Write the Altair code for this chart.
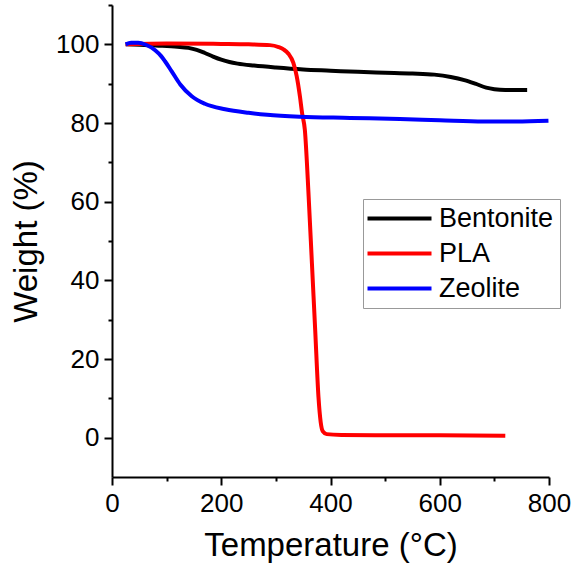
import altair as alt
import pandas as pd

FONT = "Liberation Sans, Arial, sans-serif"

series_names = ["Bentonite", "PLA", "Zeolite"]
series_colors = ["#000000", "#ff0000", "#0000ff"]

bent_T = [25, 50, 80, 120, 140, 155, 170, 185, 200, 215, 230, 260, 300, 350, 400, 450, 500, 550, 590, 620, 645, 665, 685, 700, 720, 740, 760]
bent_W = [100, 99.9, 99.7, 99.4, 99.1, 98.6, 97.8, 96.9, 96.1, 95.5, 95.1, 94.6, 94.1, 93.6, 93.3, 93.0, 92.8, 92.6, 92.3, 91.7, 90.9, 90.0, 89.0, 88.6, 88.4, 88.4, 88.4]

pla_T = [25, 100, 200, 250, 289, 305, 314, 323, 332, 338, 344, 348, 353, 360, 366, 372, 378, 382, 386, 393, 420, 500, 600, 720]
pla_W = [100, 100.2, 100.1, 100, 99.8, 99.3, 98.7, 97.6, 95.3, 92, 86.8, 82.5, 78.3, 61.3, 44.3, 27.3, 10.3, 4, 1.6, 0.9, 0.7, 0.6, 0.6, 0.5]

zeo_T = [25, 35, 48, 62, 79, 90, 97, 109, 125, 146, 170, 207, 250, 284, 344, 436, 527, 600, 680, 740, 799]
zeo_W = [100, 100.4, 100.4, 99.9, 98.5, 97.0, 95.7, 93.2, 89.8, 86.8, 84.9, 83.5, 82.6, 82.1, 81.6, 81.3, 81.0, 80.7, 80.4, 80.4, 80.6]

x_ticks = [0, 100, 200, 300, 400, 500, 600, 700, 800]
y_ticks = [0, 10, 20, 30, 40, 50, 60, 70, 80, 90, 100, 110]

rows = []
for name, T, W in [("Bentonite", bent_T, bent_W), ("PLA", pla_T, pla_W), ("Zeolite", zeo_T, zeo_W)]:
    for t, w in zip(T, W):
        rows.append({"Series": name, "T": t, "W": w})
df = pd.DataFrame(rows)

axis_common = dict(
    grid=False,
    domainColor="black",
    domainWidth=2,
    tickColor="black",
    tickWidth=2,
    labelFont=FONT,
    labelFontSize=26,
    labelColor="black",
    titleFont=FONT,
    titleFontSize=33,
    titleFontWeight="normal",
    titleColor="black",
    labelOverlap=False,
    labelFlush=False,
)

x_axis = alt.Axis(
    title="Temperature (°C)",
    values=x_ticks,
    labelExpr="datum.value % 200 == 0 ? datum.label : ''",
    tickSize={"condition": {"test": "datum.value % 200 == 0", "value": 8}, "value": 4},
    labelPadding=5,
    titlePadding=13,
    **axis_common,
)
y_axis = alt.Axis(
    title="Weight (%)",
    values=y_ticks,
    labelExpr="datum.value % 20 == 0 ? datum.label : ''",
    tickSize={"condition": {"test": "datum.value % 20 == 0", "value": 8}, "value": 4},
    labelPadding=5,
    titlePadding=12,
    **axis_common,
)

chart = alt.Chart(df).mark_line(strokeWidth=4, interpolate="monotone").encode(
    x=alt.X("T:Q", scale=alt.Scale(domain=[0, 800], nice=False, zero=False), axis=x_axis),
    y=alt.Y("W:Q", scale=alt.Scale(domain=[-10, 110], nice=False, zero=False), axis=y_axis),
    color=alt.Color(
        "Series:N",
        scale=alt.Scale(domain=series_names, range=series_colors),
        legend=alt.Legend(
            title=None,
            orient="none",
            legendX=251,
            legendY=194,
            symbolType="M-1.875,0H6.125",
            symbolSize=256,
            symbolStrokeWidth=4,
            labelOffset=43,
            labelFont=FONT,
            labelFontSize=27,
            labelColor="black",
            rowPadding=7,
            padding=6,
            strokeColor="#999999",
            fillColor="white",
        ),
    ),
).properties(
    width=437,
    height=472,
    padding={"left": 112, "top": 5, "right": 33, "bottom": 96},
    autosize="none",
).configure_view(stroke=None)

chart.save("out.html", embed_options={"renderer": "svg", "actions": False})
